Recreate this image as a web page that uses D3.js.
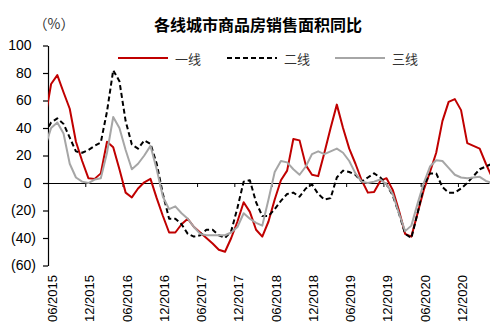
<!DOCTYPE html>
<html>
<head>
<meta charset="utf-8">
<script src="https://cdn.jsdelivr.net/npm/d3@7/dist/d3.min.js"></script>
<style>
  html, body { margin: 0; padding: 0; background: #fff; }
  svg { display: block; }
</style>
</head>
<body>
<div id="chart"></div>
<script>
// Monthly sales-area YoY growth (%) by city tier, 2015-05 .. 2021-05
const startMonth = "2015-05";
const tier1 = [46, 72, 78.5, 66, 54, 30, 16, 3.5, 3, 7, 30, 26, 10, -7, -10.5, -4, 0.5, 3, -11, -24,
  -36, -36, -30, -26, -32, -36, -40, -44, -48.5, -50, -40, -28, -14, -21, -34, -39, -28, -12, 2, 9,
  32, 31, 13, 6, 5, 22, 40, 57, 40, 25, 14, 2, -7, -6.5, 1.5, 3.5, -5, -20, -37, -39,
  -22, -5, 8, 22, 45, 59, 61, 53, 29, 27, 25, 14, 4];
const tier2 = [36, 44, 47, 43, 33, 23, 22, 24, 27, 29.5, 52, 82, 74, 45, 28, 25, 31, 28.5, 14, -8,
  -26, -26, -30, -37, -39, -38, -34, -34, -38, -40, -35, -18, 1, 2, -14, -24, -24, -19, -13, -8,
  -7, -10, -4, -1, -8, -12, -11, 4, 9, 8, 6, 1, 4, 7, 4, -1, -9, -22, -37, -40,
  -22, -2, 7, 7, -3, -7, -7, -4, 0, 5, 10, 12, 14];
const tier3 = [26, 40, 44, 36, 14, 4, 1, 0, 2.5, 3.5, 22, 48, 40, 24, 10, 14, 20, 27, 10, -10,
  -19, -17, -22, -26, -32, -37, -38, -38, -38, -38, -36, -32, -22, -26, -29, -31, -12, 8, 16, 15,
  10, 6, 12, 21, 23, 21, 23, 25, 22, 16, 7, 1, 0, 1, 2.5, -1, -8, -22, -35, -31,
  -15, 0, 12, 16.5, 16, 11, 6, 4, 3.5, 4, 4.5, 1.5, 0];
const seriesNames = ["一线", "二线", "三线"];
const xTickLabels = ["06/2015", "12/2015", "06/2016", "12/2016", "06/2017", "12/2017",
  "06/2018", "12/2018", "06/2019", "12/2019", "06/2020", "12/2020"];
const yTicks = [-60, -40, -20, 0, 20, 40, 60, 80, 100];
const titleText = "各线城市商品房销售面积同比";
const unitText = "（%）";

const W = 499, H = 328;
const svg = d3.select("#chart").append("svg").attr("width", W).attr("height", H);

// month offset from the first tick (06/2015); each value sits mid-month
const [sy, sm] = startMonth.split("-").map(Number);
const monthPos = i => (sy - 2015) * 12 + (sm - 6) + i + 0.5;

const x = d3.scaleLinear().domain([0, 71]).range([48, 489]);
const y = d3.scaleLinear().domain([-60, 100]).range([265.5, 45.5]);

const styles = [
  { color: "#C00000", dash: null },
  { color: "#000000", dash: "5,3" },
  { color: "#A6A6A6", dash: null }
];

// title and unit
svg.append("text").attr("x", 258).attr("y", 24)
  .attr("text-anchor", "middle").attr("dominant-baseline", "central")
  .style("font-family", "'Noto Sans CJK SC', sans-serif").style("font-weight", "bold")
  .style("font-size", "16px").attr("fill", "#000").text(titleText);
svg.append("text").attr("x", 54).attr("y", 23)
  .attr("text-anchor", "middle").attr("dominant-baseline", "central")
  .style("font-family", "'Noto Sans CJK SC', sans-serif")
  .style("font-size", "14px").attr("fill", "#333").text(unitText);

// y axis
const fmt = v => v < 0 ? "(" + Math.abs(v) + ")" : String(v);
const yAxis = svg.append("g").attr("transform", "translate(48,0)")
  .call(d3.axisLeft(y).tickValues(yTicks).tickSize(5).tickSizeOuter(0).tickFormat(fmt));
yAxis.select(".domain").attr("stroke", "#000").attr("stroke-width", 1.2);
yAxis.selectAll(".tick line").attr("stroke", "#000").attr("stroke-width", 1.2);
yAxis.selectAll(".tick text")
  .attr("x", d => d < 0 ? -12 : -16.5)
  .style("font-family", "'Liberation Sans', Arial, sans-serif")
  .style("font-size", "14px").attr("fill", "#000");

// x axis along zero
const tickPos = xTickLabels.map((_, i) => i * 6);
const xAxis = svg.append("g").attr("transform", `translate(0,${y(0)})`)
  .call(d3.axisBottom(x).tickValues(tickPos).tickSize(4).tickSizeOuter(0).tickFormat(""));
xAxis.select(".domain").attr("stroke", "#000").attr("stroke-width", 1.2);
xAxis.selectAll(".tick line").attr("stroke", "#000").attr("stroke-width", 1);

svg.append("g").selectAll("text").data(xTickLabels).join("text")
  .attr("transform", (d, i) => `translate(${x(tickPos[i]) + 4.5},275) rotate(-90)`)
  .attr("text-anchor", "end").attr("dominant-baseline", "central")
  .style("font-family", "'Liberation Sans', Arial, sans-serif")
  .style("font-size", "13px").attr("fill", "#000").text(d => d);

// lines, clipped to the plotting band
svg.append("clipPath").attr("id", "plotClip").append("rect")
  .attr("x", 48).attr("y", 0).attr("width", 442).attr("height", H);

const line = d3.line().x((d, i) => x(monthPos(i))).y(d => y(d));
const plot = svg.append("g").attr("clip-path", "url(#plotClip)");
[tier1, tier2, tier3].forEach((vals, s) => {
  plot.append("path").datum(vals).attr("d", line)
    .attr("fill", "none").attr("stroke", styles[s].color).attr("stroke-width", 2)
    .attr("stroke-linejoin", "round")
    .attr("stroke-dasharray", styles[s].dash);
});

// legend
const legendX = [118, 227, 335];
const legend = svg.append("g");
seriesNames.forEach((name, s) => {
  legend.append("line").attr("x1", legendX[s]).attr("x2", legendX[s] + 50)
    .attr("y1", 58).attr("y2", 58)
    .attr("stroke", styles[s].color).attr("stroke-width", 2)
    .attr("stroke-dasharray", styles[s].dash);
  legend.append("text").attr("x", legendX[s] + 57).attr("y", 58.5)
    .attr("dominant-baseline", "central")
    .style("font-family", "'Noto Sans CJK SC', sans-serif")
    .style("font-size", "13px").attr("fill", "#333").text(name);
});
</script>
</body>
</html>
